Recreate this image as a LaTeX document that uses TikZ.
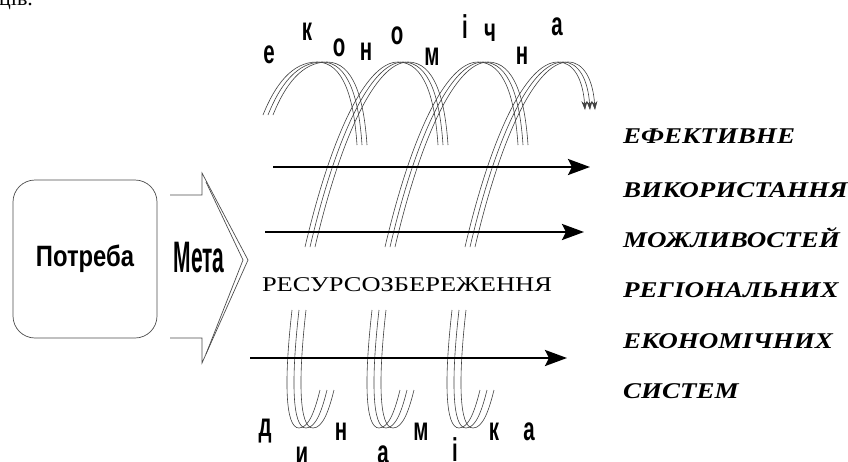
\documentclass[tikz,border=0pt]{standalone}
\usepackage{fontspec}
\usepackage{graphicx}
\setmainfont{Liberation Serif}
\newfontfamily\narrsans{Liberation Sans}
\usetikzlibrary{arrows.meta}
\tikzset{
	coil/.style = {draw=black!75, line width=0.6pt},% spirale
	coil_end/.style = {coil, -{Stealth[length=9pt,width=6pt]}},% spirale, bout fleche
	arr_h/.style = {draw=black, line width=2.6pt,
		-{Stealth[length=22pt,width=16pt,inset=4pt]}},% fleche horizontale
	lit/.style = {inner sep=0pt, font=\narrsans\bfseries\fontsize{33}{33}\selectfont},% lettre
	txt_r/.style = {inner sep=0pt, anchor=base west,
		font=\bfseries\itshape\fontsize{22.5}{22.5}\selectfont},% texte droite
	txt_c/.style = {inner sep=0pt, font=\fontsize{21}{21}\selectfont}% texte centre
}
\newcommand{\narr}[1]{\scalebox{0.62}[1]{#1}}

\begin{document}
\begin{tikzpicture}[x=1pt, y=-1pt]
	\useasboundingbox (0,0) rectangle (848,461);
	\node[inner sep=0pt, anchor=base west, font=\fontsize{22}{22}\selectfont] (frag) at (-1,5) {ців.};
	% boite potreba
	\node[draw=black!70, line width=0.7pt, rounded corners=22pt, minimum width=144pt,
		minimum height=158pt, inner sep=0pt] (potr) at (85,259)
		{\scalebox{0.85}[1.05]{\narrsans\bfseries\fontsize{28}{28}\selectfont Потреба}};
	% fleche meta
	\draw[draw=black!70, line width=0.7pt] (170,195) -- (202,195) -- (202,173) -- (248,260)
		-- (202,363) -- (202,338) -- (170,338);
	\draw[draw=black!70, line width=0.7pt] (206,182) -- (243,260) -- (206,354);
	\node[inner sep=0pt] (meta) at (199,258)
		{\scalebox{0.5}[1.05]{\narrsans\bfseries\fontsize{42}{42}\selectfont Мета}};
	% spirale haut
	\foreach \d in {0,5,10}{
		\draw[coil] (263+\d,115) .. controls (275+\d,85) and (292+\d,62) .. (317+\d,62)
			.. controls (344+\d,62) and (354+\d,100) .. (357+\d,145);
		\foreach \t in {398,478}
			\draw[coil] (\t-93+\d,247) .. controls (\t-68+\d,140) and (\t-33+\d,62) .. (\t+\d,62)
				.. controls (\t+27+\d,62) and (\t+37+\d,100) .. (\t+40+\d,145);
		\draw[coil_end] (465+\d,247) .. controls (490+\d,140) and (525+\d,62) .. (558+\d,62)
			.. controls (574+\d,62) and (583+\d,80) .. (585+\d,110);
	}
	% spirale bas
	\foreach \x in {287,367,447}
		\foreach \d in {0,7,14}
			\draw[coil] (\x+5+\d,310) .. controls (\x-3+\d,380) and (\x-2+\d,428) .. (\x+12+\d,428)
				.. controls (\x+22+\d,428) and (\x+28+\d,410) .. (\x+33+\d,390);
	% fleches
	\coordinate (h1a) at (273,167); \coordinate (h1b) at (590,167);
	\coordinate (h2a) at (265,232); \coordinate (h2b) at (584,232);
	\coordinate (h3a) at (250,358); \coordinate (h3b) at (567,358);
	\draw[arr_h] (h1a) -- (h1b);
	\draw[arr_h] (h2a) -- (h2b);
	\draw[arr_h] (h3a) -- (h3b);
	\node[txt_c] (res) at (407,285) {\scalebox{1.26}[1]{РЕСУРСОЗБЕРЕЖЕННЯ}};
	% lettres haut
	\foreach \x/\y/\c [count=\i] in {269/55/е, 307/32/к, 339/48/о, 366/52/н, 397/36/о,
		432/57/м, 465/27/і, 490/33/ч, 522/56/н, 557/27/а}
		\node[lit] (e\i) at (\x,\y) {\narr{\c}};
	% lettres bas
	\foreach \x/\y/\c [count=\i] in {265/431/д, 302/456/и, 341/432/н, 383/455/а,
		421/432/м, 455/450/і, 494/432/к, 529/432/а}
		\node[lit] (d\i) at (\x,\y) {\narr{\c}};
	% texte droite
	\foreach \y/\t [count=\i] in {143/ЕФЕКТИВНЕ, 197/ВИКОРИСТАННЯ, 247/МОЖЛИВОСТЕЙ,
		297/РЕГІОНАЛЬНИХ, 348/ЕКОНОМІЧНИХ, 398/СИСТЕМ}
		\node[txt_r] (r\i) at (623,\y) {\scalebox{1.2}[1]{\t}};
\end{tikzpicture}
\end{document}
